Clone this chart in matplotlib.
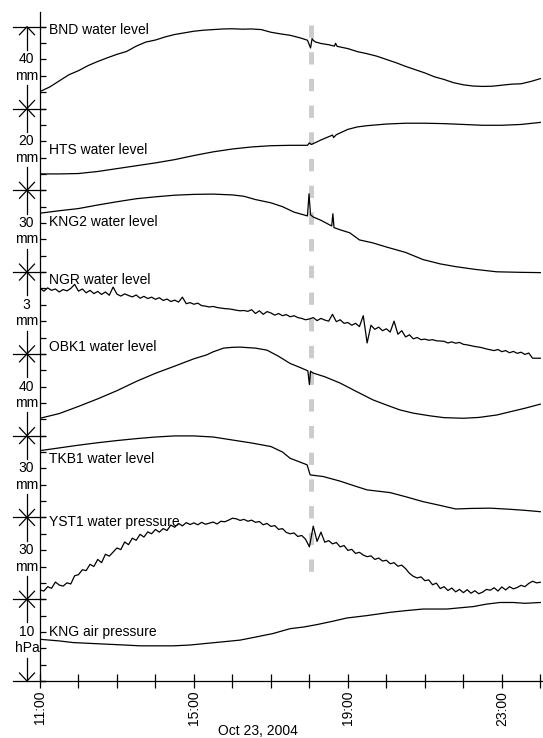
import numpy as np
import matplotlib.pyplot as plt
from matplotlib import transforms

plt.rcParams['font.family'] = ['Liberation Sans', 'DejaVu Sans']

# records, top to bottom
names = ['BND water level', 'HTS water level', 'KNG2 water level', 'NGR water level',
         'OBK1 water level', 'TKB1 water level', 'YST1 water pressure', 'KNG air pressure']
scales = [40, 20, 30, 3, 40, 30, 30, 10]
units = ['mm', 'mm', 'mm', 'mm', 'mm', 'mm', 'mm', 'hPa']

# times in hours on Oct 23, 2004; values in mm (hPa) above the bottom of each band
bnd_t = [11.0, 11.25, 11.5, 11.75, 12.0, 12.25, 12.5, 12.75, 13.0, 13.25, 13.5, 13.75, 14.0,
         14.25, 14.5, 14.75, 15.0, 15.25, 15.5, 15.75, 16.0, 16.25, 16.5, 16.75, 17.0, 17.25,
         17.5, 17.75, 17.95, 18.03, 18.07, 18.1, 18.15, 18.3, 18.5, 18.65, 18.68, 18.72, 19.0,
         19.25, 19.5, 19.75, 20.0, 20.25, 20.5, 20.75, 21.0, 21.25, 21.5, 21.75, 22.0, 22.25,
         22.5, 22.75, 23.0, 23.25, 23.5, 23.75, 24.0]
bnd_v = [8.3, 10.5, 13.5, 16.5, 18.5, 21.0, 23.0, 24.8, 26.5, 27.9, 30.5, 32.5, 33.5,
         35.0, 36.2, 37.0, 37.8, 38.3, 38.6, 38.9, 39.0, 38.8, 38.9, 38.6, 37.3, 36.5,
         35.8, 34.6, 33.4, 29.6, 34.2, 33.4, 32.6, 31.8, 31.2, 30.5, 31.9, 30.4, 29.3,
         27.8, 26.8, 25.6, 24.0, 22.4, 20.6, 19.0, 17.4, 15.5, 14.2, 12.6, 11.6, 11.0,
         10.8, 10.9, 11.4, 11.9, 12.1, 13.2, 14.6]

hts_t = [11.0, 11.5, 12.0, 12.5, 13.0, 13.5, 14.0, 14.5, 15.0, 15.5, 16.0, 16.5, 17.0, 17.5,
         17.95, 18.0, 18.05, 18.3, 18.6, 18.63, 18.7, 19.0, 19.25, 19.5, 19.75, 20.0, 20.5,
         21.0, 21.5, 22.0, 22.5, 23.0, 23.5, 24.0]
hts_v = [4.0, 4.0, 4.1, 4.6, 5.3, 6.0, 6.7, 7.5, 8.5, 9.4, 10.1, 10.6, 10.9, 11.0,
         11.0, 11.6, 11.2, 12.3, 13.5, 12.9, 13.6, 14.9, 15.5, 15.8, 16.0, 16.2, 16.4,
         16.4, 16.3, 16.1, 15.9, 15.9, 16.1, 16.6]

kng2_t = [11.0, 11.5, 12.0, 12.5, 13.0, 13.5, 14.0, 14.5, 15.0, 15.5, 16.0, 16.3, 16.6, 17.0,
          17.3, 17.6, 17.95, 17.99, 18.03, 18.1, 18.3, 18.58, 18.61, 18.64, 18.8, 19.05, 19.3,
          19.65, 20.0, 20.5, 20.95, 21.4, 21.8, 22.3, 22.87, 23.5, 24.0]
kng2_v = [21.6, 22.5, 23.3, 24.6, 25.8, 26.9, 27.6, 28.2, 28.5, 28.6, 28.3, 27.8, 26.6, 25.4,
          24.0, 22.0, 20.6, 28.7, 21.0, 20.2, 19.0, 16.9, 21.4, 16.3, 15.5, 14.4, 11.8,
          10.7, 9.2, 7.2, 4.6, 3.0, 2.0, 1.0, 0.1, -0.1, -0.2]

grid_t = 11 + np.arange(131) / 10  # 6-minute steps for the noisy records
ngr_v = [2.41, 2.30, 2.42, 2.33, 2.38, 2.27, 2.36, 2.31, 2.40, 2.55,
         2.30, 2.38, 2.24, 2.33, 2.21, 2.29, 2.18, 2.27, 2.15, 2.45,
         2.19, 2.12, 2.20, 2.14, 2.09, 2.16, 2.04, 2.11, 2.03, 2.08,
         2.00, 2.06, 1.96, 2.01, 1.92, 1.97, 1.90, 2.08, 1.84, 1.88,
         1.82, 1.86, 1.77, 1.75, 1.72, 1.74, 1.70, 1.68, 1.66, 1.65,
         1.63, 1.60, 1.58, 1.59, 1.56, 1.62, 1.48, 1.58, 1.45, 1.55,
         1.50, 1.42, 1.48, 1.40, 1.44, 1.36, 1.40, 1.33, 1.30, 1.25,
         1.28, 1.33, 1.22, 1.30, 1.24, 1.20, 1.45, 1.18, 1.25, 1.12,
         1.15, 1.05, 1.12, 1.00, 1.40, 0.40, 1.05, 0.90, 0.98, 0.85,
         0.92, 0.80, 1.20, 0.72, 0.85, 0.62, 0.70, 0.55, 0.60, 0.52,
         0.54, 0.50, 0.52, 0.48, 0.47, 0.46, 0.40, 0.44, 0.39, 0.42,
         0.35, 0.33, 0.30, 0.27, 0.25, 0.22, 0.18, 0.15, 0.12, 0.16,
         0.08, 0.12, 0.04, 0.09, 0.02, 0.06, -0.02, 0.03, -0.16, -0.16, -0.16]

obk1_t = [11.0, 11.5, 12.0, 12.5, 13.0, 13.5, 14.0, 14.5, 15.0, 15.33, 15.5, 15.77, 16.0, 16.2,
          16.6, 16.9, 17.2, 17.5, 17.75, 17.96, 18.0, 18.03, 18.1, 18.4, 18.8, 19.2, 19.65,
          20.0, 20.35, 20.7, 21.13, 21.5, 22.0, 22.4, 22.87, 23.2, 23.6, 24.0]
obk1_v = [8.5, 10.8, 14.3, 18.0, 22.0, 26.5, 30.5, 34.0, 37.6, 39.5, 41.0, 42.8, 43.2, 43.3,
          42.8, 41.8, 38.8, 35.3, 33.4, 31.7, 25.0, 31.5, 30.6, 28.8, 25.7, 21.8, 17.5,
          15.0, 12.6, 11.0, 9.7, 8.8, 8.5, 8.9, 10.1, 11.6, 13.4, 15.4]

tkb1_t = [11.0, 11.5, 12.0, 12.5, 13.0, 13.5, 14.0, 14.5, 15.0, 15.5, 16.0, 16.5, 17.0, 17.3,
          17.5, 17.94, 18.02, 18.36, 18.8, 19.23, 19.5, 20.1, 20.5, 20.95, 21.4, 21.8, 22.2,
          22.7, 23.2, 23.6, 24.0]
tkb1_v = [24.5, 25.5, 26.5, 27.4, 28.2, 28.9, 29.5, 29.9, 29.9, 29.5, 28.4, 27.3, 26.0, 24.0,
          21.7, 19.3, 15.6, 15.0, 13.3, 11.3, 10.1, 9.1, 7.6, 5.8, 4.4, 3.1, 3.3,
          3.4, 3.0, 2.6, 2.1]

yst1_v = [3.4, 3.0, 4.6, 4.0, 6.3, 5.2, 4.8, 6.0, 5.6, 8.6,
          9.0, 10.8, 10.5, 12.8, 12.0, 14.6, 13.4, 16.5, 15.8, 17.3,
          18.8, 18.2, 21.0, 20.0, 22.4, 21.6, 23.8, 22.8, 24.7, 24.0,
          25.6, 24.6, 25.9, 25.2, 27.2, 26.4, 27.8, 26.9, 28.1, 27.4,
          28.0, 27.3, 28.2, 27.5, 27.9, 28.3, 27.6, 28.6, 28.4, 29.0,
          29.7, 29.5, 28.9, 29.3, 28.6, 29.0, 28.2, 28.5, 27.3, 27.8,
          26.7, 27.0, 25.6, 25.9, 24.5, 24.0, 24.3, 23.0, 23.4, 22.0,
          19.2, 26.8, 21.2, 24.6, 20.9, 21.5, 20.3, 20.8, 19.2, 19.7,
          17.9, 18.3, 16.8, 17.2, 16.2, 15.6, 15.9, 14.6, 15.1, 14.0,
          14.3, 13.0, 13.4, 12.1, 12.5, 11.2, 9.5, 8.4, 7.8, 8.2,
          6.8, 7.1, 5.3, 5.9, 3.9, 4.6, 3.2, 4.1, 2.7, 3.6,
          2.4, 3.5, 2.2, 3.1, 2.0, 2.6, 3.6, 3.3, 4.2, 3.0,
          4.5, 3.4, 4.6, 3.8, 4.3, 5.1, 4.6, 5.8, 6.6, 6.0, 6.2]

kng_t = [11.0, 11.5, 11.86, 12.3, 12.74, 13.2, 13.6, 14.0, 14.47, 14.9, 15.33, 15.77, 16.2,
         16.63, 17.05, 17.5, 17.85, 18.2, 18.6, 18.97, 19.5, 20.1, 20.5, 20.95, 21.57, 22.26,
         22.6, 22.95, 23.3, 23.6, 24.0]
kng_v = [5.1, 4.9, 4.7, 4.6, 4.5, 4.4, 4.3, 4.3, 4.3, 4.4, 4.6, 4.8, 5.0,
         5.4, 5.8, 6.4, 6.6, 6.9, 7.3, 7.7, 8.0, 8.4, 8.6, 8.8, 8.8, 9.1,
         9.4, 9.6, 9.6, 9.5, 9.6]

times = [bnd_t, hts_t, kng2_t, grid_t, obk1_t, tkb1_t, grid_t, kng_t]
values = [bnd_v, hts_v, kng2_v, ngr_v, obk1_v, tkb1_v, yst1_v, kng_v]
label_pos = [0.957, 0.487, 0.611, 0.897, 1.082, 0.716, 0.949, 0.596]

event_t = 18.03
major_hours = [11, 15, 19, 23]
major_labels = ['11:00', '15:00', '19:00', '23:00']

W, H = 543, 738
fig = plt.figure(figsize=(W / 100, H / 100), dpi=100)
ax = fig.add_axes([40 / W, 57 / H, 503 / W, 669 / H])
ax.set_xlim(11, 24.07)
ax.set_ylim(0, 8.18)
band_px = 81.75
n = len(names)

# event marker
ax.plot([event_t, event_t], [8.025, 1.32], color='#cccccc', lw=3.6,
        dashes=(2.46, 2.88), zorder=1)

for i in range(n):
    base = n - 1 - i
    y = base + np.asarray(values[i], dtype=float) / scales[i]
    ax.plot(times[i], y, color='black', lw=0.9, zorder=3)
    ax.text(11.23, base + label_pos[i], names[i], fontsize=10, va='center', ha='left', zorder=4)

# scale bars on the left
tr = transforms.blended_transform_factory(fig.transFigure, ax.transData)
xc = 27 / W
hw = 7.5 / W
d = 8 / band_px
gap = 9.5 / band_px
for i in range(n):
    base = n - 1 - i
    top = base + 1
    ax.text(26.5 / W, base + 0.6, str(scales[i]), transform=tr, fontsize=10,
            ha='center', va='center')
    ax.text(27 / W, base + 0.4, units[i], transform=tr, fontsize=10,
            ha='center', va='center')
    ax.plot([xc, xc], [top, base + 0.6 + gap], color='black', lw=0.9, transform=tr, clip_on=False)
    ax.plot([xc, xc], [base + 0.4 - gap, base], color='black', lw=0.9, transform=tr, clip_on=False)
    ax.plot([xc - hw, xc, xc + hw], [top - d, top, top - d], color='black', lw=0.9,
            transform=tr, clip_on=False)
    ax.plot([xc - hw, xc, xc + hw], [base + d, base, base + d], color='black', lw=0.9,
            transform=tr, clip_on=False)
for k in range(n + 1):
    ax.plot([13 / W, 45 / W], [k, k], color='black', lw=0.9, transform=tr, clip_on=False)

# axes styling
for s in ['top', 'right']:
    ax.spines[s].set_visible(False)
for s in ['left', 'bottom']:
    ax.spines[s].set_linewidth(0.9)
ax.set_yticks(np.arange(0, n + 0.01, 0.2))
ax.set_yticklabels([])
ax.tick_params(axis='y', direction='in', length=4, width=0.9)

ax.set_xticks(major_hours)
ax.set_xticklabels(major_labels)
ax.set_xticks([h for h in range(11, 25) if h not in major_hours], minor=True)
ax.tick_params(axis='x', which='both', direction='inout', length=10, width=0.9,
               labelsize=10, labelrotation=90, pad=2)

fig.text(218 / W, 1 - 731 / H, 'Oct 23, 2004', fontsize=10, ha='left', va='center')

fig.savefig('out.png', dpi=100)
